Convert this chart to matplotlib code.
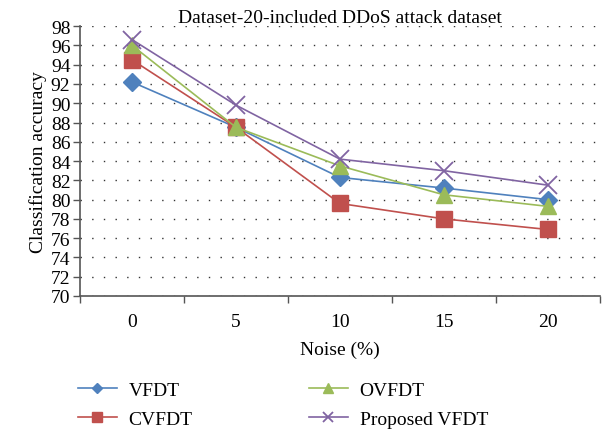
import matplotlib.pyplot as plt
import numpy as np

plt.rcParams['font.family'] = ['Liberation Serif', 'DejaVu Serif']

noise = ['0', '5', '10', '15', '20']
vfdt = [92.2, 87.5, 82.3, 81.2, 80.0]
cvfdt = [94.5, 87.5, 79.6, 78.0, 76.9]
ovfdt = [96.0, 87.5, 83.5, 80.5, 79.3]
proposed = [96.6, 89.8, 84.2, 83.0, 81.5]

fig = plt.figure(figsize=(6.07, 4.31), dpi=100)
ax = fig.add_axes([0.132, 0.311, 0.856, 0.626])

x = np.arange(len(noise))
ax.plot(x, vfdt, '-D', color='#4F81BD', ms=9, lw=1.2, label='VFDT')
ax.plot(x, cvfdt, '-s', color='#C0504D', ms=11, lw=1.2, label='CVFDT')
ax.plot(x, ovfdt, '-^', color='#9BBB59', ms=11, lw=1.2, label='OVFDT')
ax.plot(x, proposed, '-x', color='#8064A2', ms=13, mew=1.3, lw=1.2, label='Proposed VFDT')

ax.set_xlim(-0.5, len(noise) - 0.5)
ax.set_ylim(70, 98)
ax.set_yticks(np.arange(70, 99, 2))
ax.set_xticks(x)
ax.set_xticklabels(noise)
ax.set_xticks(np.arange(-0.5, len(noise), 1), minor=True)
ax.tick_params(axis='x', which='major', length=0, labelsize=14, pad=12)
ax.tick_params(axis='x', which='minor', length=5, width=1, color='#555555')
ax.tick_params(axis='y', length=5, width=1, color='#555555', labelsize=14, pad=2)

ax.yaxis.grid(True, linestyle=(0, (1, 7.4)), color='#333333', lw=1)
ax.set_axisbelow(True)
for s in ['top', 'right']:
    ax.spines[s].set_visible(False)
for s in ['left', 'bottom']:
    ax.spines[s].set_color('#555555')
    ax.spines[s].set_linewidth(1.2)

ax.set_title('Dataset-20-included DDoS attack dataset', fontsize=14, pad=1)
ax.set_ylabel('Classification accuracy', fontsize=14, labelpad=3)
ax.set_xlabel('Noise (%)', fontsize=14, labelpad=8)

handles, labels = ax.get_legend_handles_labels()
leg = fig.legend(handles, labels,
                 loc='lower left', bbox_to_anchor=(0.125, 0.0), ncol=2,
                 frameon=False, fontsize=14, columnspacing=6.0,
                 handlelength=2.0, handletextpad=0.6, markerscale=0.6,
                 labelspacing=0.6, borderaxespad=0.0, borderpad=0.1)

fig.savefig('out.png', dpi=100)
